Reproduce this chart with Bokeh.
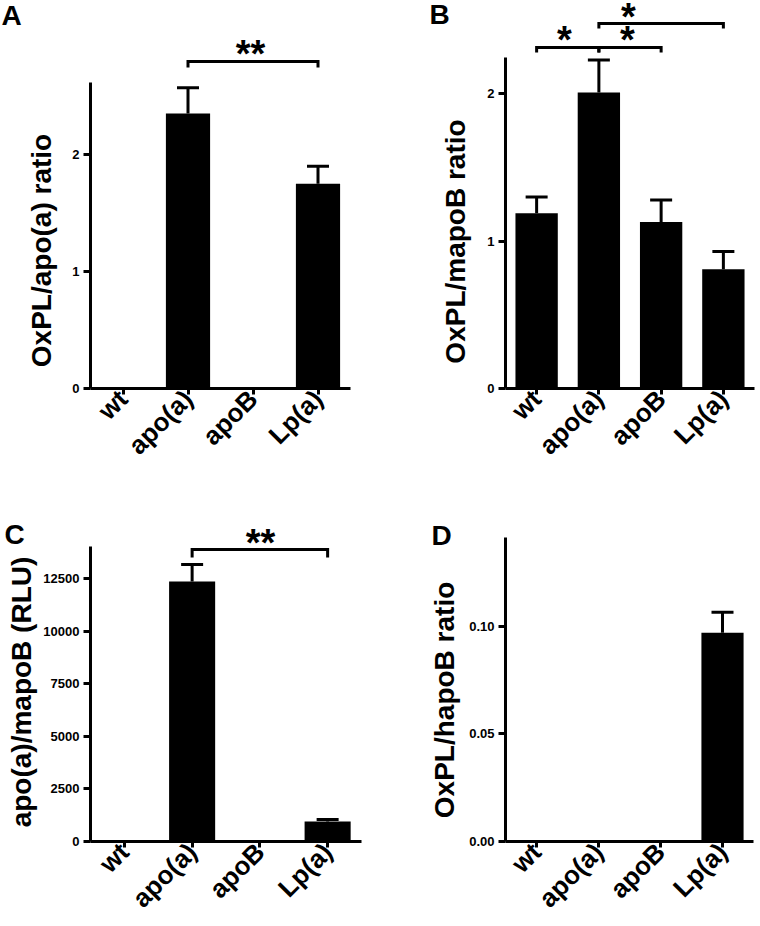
import math
from bokeh.plotting import figure
from bokeh.models import (Range1d, FixedTicker, Whisker, TeeHead, ColumnDataSource,
                          NumeralTickFormatter, BasicTickFormatter)
from bokeh.layouts import row, column
from bokeh.embed import file_html
from bokeh.resources import INLINE
from bokeh.core.properties import value

# ---------------- data ----------------
categories = ["wt", "apo(a)", "apoB", "Lp(a)"]

a_values = [0, 2.35, 0, 1.75]
a_errors = [0, 0.22, 0, 0.15]

b_values = [1.19, 2.01, 1.13, 0.81]
b_errors = [0.11, 0.22, 0.15, 0.12]

c_values = [0, 12380, 0, 950]
c_errors = [0, 810, 0, 100]

d_values = [0, 0, 0, 0.097]
d_errors = [0, 0, 0, 0.0095]

a_ticks = [0, 1, 2]
b_ticks = [0, 1, 2]
c_ticks = [0, 2500, 5000, 7500, 10000, 12500]
d_ticks = [0, 0.05, 0.10]

a_ylabel = "OxPL/apo(a) ratio"
b_ylabel = "OxPL/mapoB ratio"
c_ylabel = "apo(a)/mapoB (RLU)"
d_ylabel = "OxPL/hapoB ratio"

# significance: (from category, to category, marker)
a_sig = [("apo(a)", "Lp(a)", "**")]
b_sig = [("wt", "apo(a)", "*"), ("apo(a)", "apoB", "*"), ("apo(a)", "Lp(a)", "*")]
c_sig = [("apo(a)", "Lp(a)", "**")]

# ---------------- style / layout ----------------
FONT = "Liberation Sans"
TOP_H = 474
BOT_H = 926 - TOP_H
STAR_PX = 38
STAR_DROP = 4      # px from asterisk centre down to text anchor (baseline "middle")


def panel(letter, values, errors, ticks, fmt, ylabel, width, height,
          left, right, top, frame_bottom, px_per_unit, ylabel_xy,
          sig=(), sig_layout=(), letter_xy=(0, 0)):
    """All layout numbers are pixel positions inside this figure."""
    idx = list(range(len(categories)))
    frame_w = width - left - right
    frame_h = frame_bottom - top
    x_px = frame_w / len(categories)
    y_end = frame_h / px_per_unit

    def yv(py):  # figure pixel row -> data value
        return (frame_bottom - py) / px_per_unit

    def xv(px):  # figure pixel column -> data value
        return -0.5 + (px - left) / x_px

    p = figure(width=width, height=height, output_backend="svg", toolbar_location=None,
               x_range=Range1d(-0.5, len(categories) - 0.5), y_range=Range1d(0, y_end),
               min_border_left=left, min_border_right=right, min_border_top=top,
               min_border_bottom=height - frame_bottom)
    if "frame_align" in p.properties():
        p.frame_align = False
    p.outline_line_color = None
    p.grid.visible = False
    p.background_fill_color = "white"
    p.border_fill_color = "white"

    p.vbar(x=idx, top=values, width=0.68, fill_color="black", line_color=None)

    wx = [i for i, e in zip(idx, errors) if e > 0]
    wl = [v for v, e in zip(values, errors) if e > 0]
    wu = [v + e for v, e in zip(values, errors) if e > 0]
    src = ColumnDataSource(dict(x=wx, lower=wl, upper=wu))
    p.add_layout(Whisker(base="x", lower="lower", upper="upper", source=src,
                         line_color="black", line_width=3, lower_head=None,
                         upper_head=TeeHead(size=22, line_width=3, line_color="black")))

    # significance brackets and stars (drawn above the frame, unclipped overlay level)
    for (c1, c2, mark), (by, drop, sx, sy) in zip(sig, sig_layout):
        x1, x2 = categories.index(c1), categories.index(c2)
        p.line(x=[x1, x1, x2, x2], y=[yv(by + drop), yv(by), yv(by), yv(by + drop)],
               line_color="black", line_width=3, line_join="miter", level="overlay")
        p.text(x=[xv(sx)], y=[yv(sy + STAR_DROP)], text=[mark],
               text_font=value(FONT), text_font_style="bold",
               text_font_size=f"{STAR_PX}px", text_align="center",
               text_baseline="middle", text_color="black", level="overlay")

    # panel letter
    p.text(x=[xv(letter_xy[0])], y=[yv(letter_xy[1])], text=[letter],
           text_font=value(FONT), text_font_style="bold", text_font_size="28px",
           text_align="left", text_baseline="middle", text_color="black", level="overlay")

    # y-axis title (rotated text in the left margin)
    p.text(x=[xv(ylabel_xy[0])], y=[yv(ylabel_xy[1])], text=[ylabel], angle=math.pi / 2,
           text_font=value(FONT), text_font_style="bold", text_font_size="28px",
           text_align="center", text_baseline="middle", text_color="black", level="overlay")

    # axes
    for ax in (p.xaxis[0], p.yaxis[0]):
        ax.axis_line_width = 3
        ax.axis_line_color = "black"
        ax.major_tick_line_width = 3
        ax.major_tick_line_color = "black"
        ax.major_tick_in = 0
        ax.minor_tick_line_color = None
        ax.major_label_text_font = FONT
        ax.major_label_text_font_style = "bold"
        ax.major_label_text_color = "black"

    ya = p.yaxis[0]
    ya.ticker = FixedTicker(ticks=ticks)
    ya.formatter = fmt
    ya.major_tick_out = 7
    ya.major_label_standoff = 4
    ya.major_label_text_font_size = "13px"

    xa = p.xaxis[0]
    xa.ticker = FixedTicker(ticks=idx)
    xa.major_label_overrides = {i: c for i, c in zip(idx, categories)}
    xa.major_tick_out = 6
    xa.major_label_standoff = 0
    xa.major_label_orientation = math.pi / 4
    xa.major_label_text_font_size = "26px"
    return p


# top row (figure y == page y)
pA = panel("A", a_values, a_errors, a_ticks, BasicTickFormatter(), a_ylabel,
           380, TOP_H, 90, 30, 82, 388, 117.0, (41, 250),
           a_sig, [(61, 6, 250, 49)], letter_xy=(1, 15))

pB = panel("B", b_values, b_errors, b_ticks, BasicTickFormatter(), b_ylabel,
           380, TOP_H, 125, 6, 57, 388, 147.3, (455 - 380, 241),
           b_sig, [(47, 5, 564 - 380, 35), (47, 5, 627 - 380, 35), (23, 5, 628 - 380, 12)],
           letter_xy=(49, 14))

# bottom row (figure y == page y - TOP_H)
pC = panel("C", c_values, c_errors, c_ticks, BasicTickFormatter(), c_ylabel,
           380, BOT_H, 90, 19, 546 - TOP_H, 842 - TOP_H, 52.7 / 2500, (21, 692 - TOP_H),
           c_sig, [(549 - TOP_H, 8, 260, 538 - TOP_H)], letter_xy=(4, 534 - TOP_H))

pD = panel("D", d_values, d_errors, d_ticks, NumeralTickFormatter(format="0.00"), d_ylabel,
           380, BOT_H, 125, 7, 537 - TOP_H, 842 - TOP_H, 108.0 / 0.05, (444 - 380, 700 - TOP_H),
           letter_xy=(431 - 380, 535 - TOP_H))

layout = column(row(pA, pB), row(pC, pD))

with open("out.html", "w") as f:
    f.write(file_html(layout, INLINE))
